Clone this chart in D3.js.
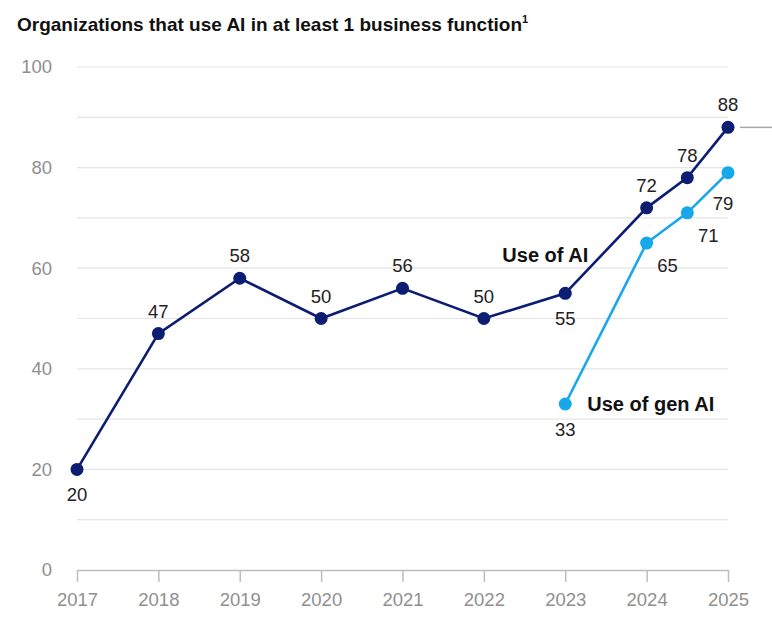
<!DOCTYPE html>
<html>
<head>
<meta charset="utf-8">
<script src="https://cdn.jsdelivr.net/npm/d3@7"></script>
<style>
  body { margin: 0; background: #fff; font-family: "Liberation Sans", Arial, sans-serif; }
  .tick text { font-family: "Liberation Sans", Arial, sans-serif; }
</style>
</head>
<body>
<div id="chart"></div>
<script>
// data
const years = [2017, 2018, 2019, 2020, 2021, 2022, 2023, 2024, 2025];
const aiX = [2017, 2018, 2019, 2020, 2021, 2022, 2023, 2024, 2024.5, 2025];
const aiValues = [20, 47, 58, 50, 56, 50, 55, 72, 78, 88];
const genX = [2023, 2024, 2024.5, 2025];
const genValues = [33, 65, 71, 79];
const yTicks = [0, 20, 40, 60, 80, 100];

// label placement: "above" / "below" / "right"
const aiLabelPos = ["below", "above", "above", "above", "above", "above", "below", "above", "above", "above"];
const genLabelPos = ["below", "right", "right", "belowLeft"];

const W = 772, H = 629;
const margin = { top: 67, right: 44, bottom: 59, left: 77 },
    width = W - margin.left - margin.right,
    height = H - margin.top - margin.bottom;

const navy = "#0c1d72", sky = "#17a8ec", grey = "#8f8f8f";
const fs = 18.5;

const svg = d3.select("#chart").append("svg")
    .attr("width", W)
    .attr("height", H);

svg.append("text")
    .attr("x", 17)
    .attr("y", 31)
    .attr("font-size", 19)
    .attr("font-weight", "bold")
    .attr("fill", "#111")
    .text("Organizations that use AI in at least 1 business function")
  .append("tspan")
    .attr("dy", -8)
    .attr("font-size", 11)
    .text("1");

const g = svg.append("g")
    .attr("transform", `translate(${margin.left},${margin.top})`);

const x = d3.scaleLinear().domain([2017, 2025]).range([0, width]);
const y = d3.scaleLinear().domain([0, 100]).range([height, 0]);

// gridlines every 10
g.append("g")
    .selectAll("line")
    .data(d3.range(10, 101, 10))
    .join("line")
    .attr("x1", 0)
    .attr("x2", width)
    .attr("y1", d => y(d))
    .attr("y2", d => y(d))
    .attr("stroke", "#e4e4e4")
    .attr("stroke-width", 1.2);

// y axis labels
g.append("g")
    .call(d3.axisLeft(y).tickValues(yTicks).tickSize(0).tickPadding(25))
    .call(a => a.select(".domain").remove())
    .call(a => a.selectAll(".tick text")
        .attr("font-size", fs)
        .attr("fill", grey));

// x axis
g.append("g")
    .attr("transform", `translate(0,${height})`)
    .call(d3.axisBottom(x).tickValues(years).tickFormat(d3.format("d")).tickSize(12).tickSizeOuter(0).tickPadding(11))
    .call(a => a.select(".domain").attr("stroke", "#bdbdbd").attr("stroke-width", 1.5))
    .call(a => a.selectAll(".tick line").attr("stroke", "#bdbdbd").attr("stroke-width", 1.5))
    .call(a => a.selectAll(".tick text")
        .attr("font-size", fs)
        .attr("fill", grey));

// short pointer line right of last point
g.append("line")
    .attr("x1", x(2025) + 12)
    .attr("x2", W - margin.left)
    .attr("y1", y(aiValues[aiValues.length - 1]))
    .attr("y2", y(aiValues[aiValues.length - 1]))
    .attr("stroke", "#a8a8a8")
    .attr("stroke-width", 1.5);

const line = d3.line()
    .x(d => x(d[0]))
    .y(d => y(d[1]));

const dxFor = { above: 0, below: 0, right: 21, belowLeft: -5 };
const dyFor = { above: -16, below: 32, right: 29, belowLeft: 37 };

function drawSeries(xs, vals, color, pos) {
    const data = xs.map((v, i) => [v, vals[i], pos[i]]);
    g.append("path")
        .datum(data)
        .attr("fill", "none")
        .attr("stroke", color)
        .attr("stroke-width", 2.6)
        .attr("d", line);
    g.append("g")
        .selectAll("circle")
        .data(data)
        .join("circle")
        .attr("cx", d => x(d[0]))
        .attr("cy", d => y(d[1]))
        .attr("r", 6.5)
        .attr("fill", color);
    g.append("g")
        .selectAll("text")
        .data(data)
        .join("text")
        .attr("x", d => x(d[0]) + dxFor[d[2]])
        .attr("y", d => y(d[1]) + dyFor[d[2]])
        .attr("text-anchor", "middle")
        .attr("font-size", fs)
        .attr("fill", "#222")
        .text(d => d[1]);
}

drawSeries(aiX, aiValues, navy, aiLabelPos);
drawSeries(genX, genValues, sky, genLabelPos);

// series labels
g.append("text")
    .attr("x", x(2023) + 23)
    .attr("y", y(61) - 1)
    .attr("text-anchor", "end")
    .attr("font-size", 20)
    .attr("font-weight", "bold")
    .attr("fill", "#111")
    .text("Use of AI");

g.append("text")
    .attr("x", x(2023) + 22)
    .attr("y", y(33) + 7)
    .attr("font-size", 20)
    .attr("font-weight", "bold")
    .attr("fill", "#111")
    .text("Use of gen AI");
</script>
</body>
</html>
